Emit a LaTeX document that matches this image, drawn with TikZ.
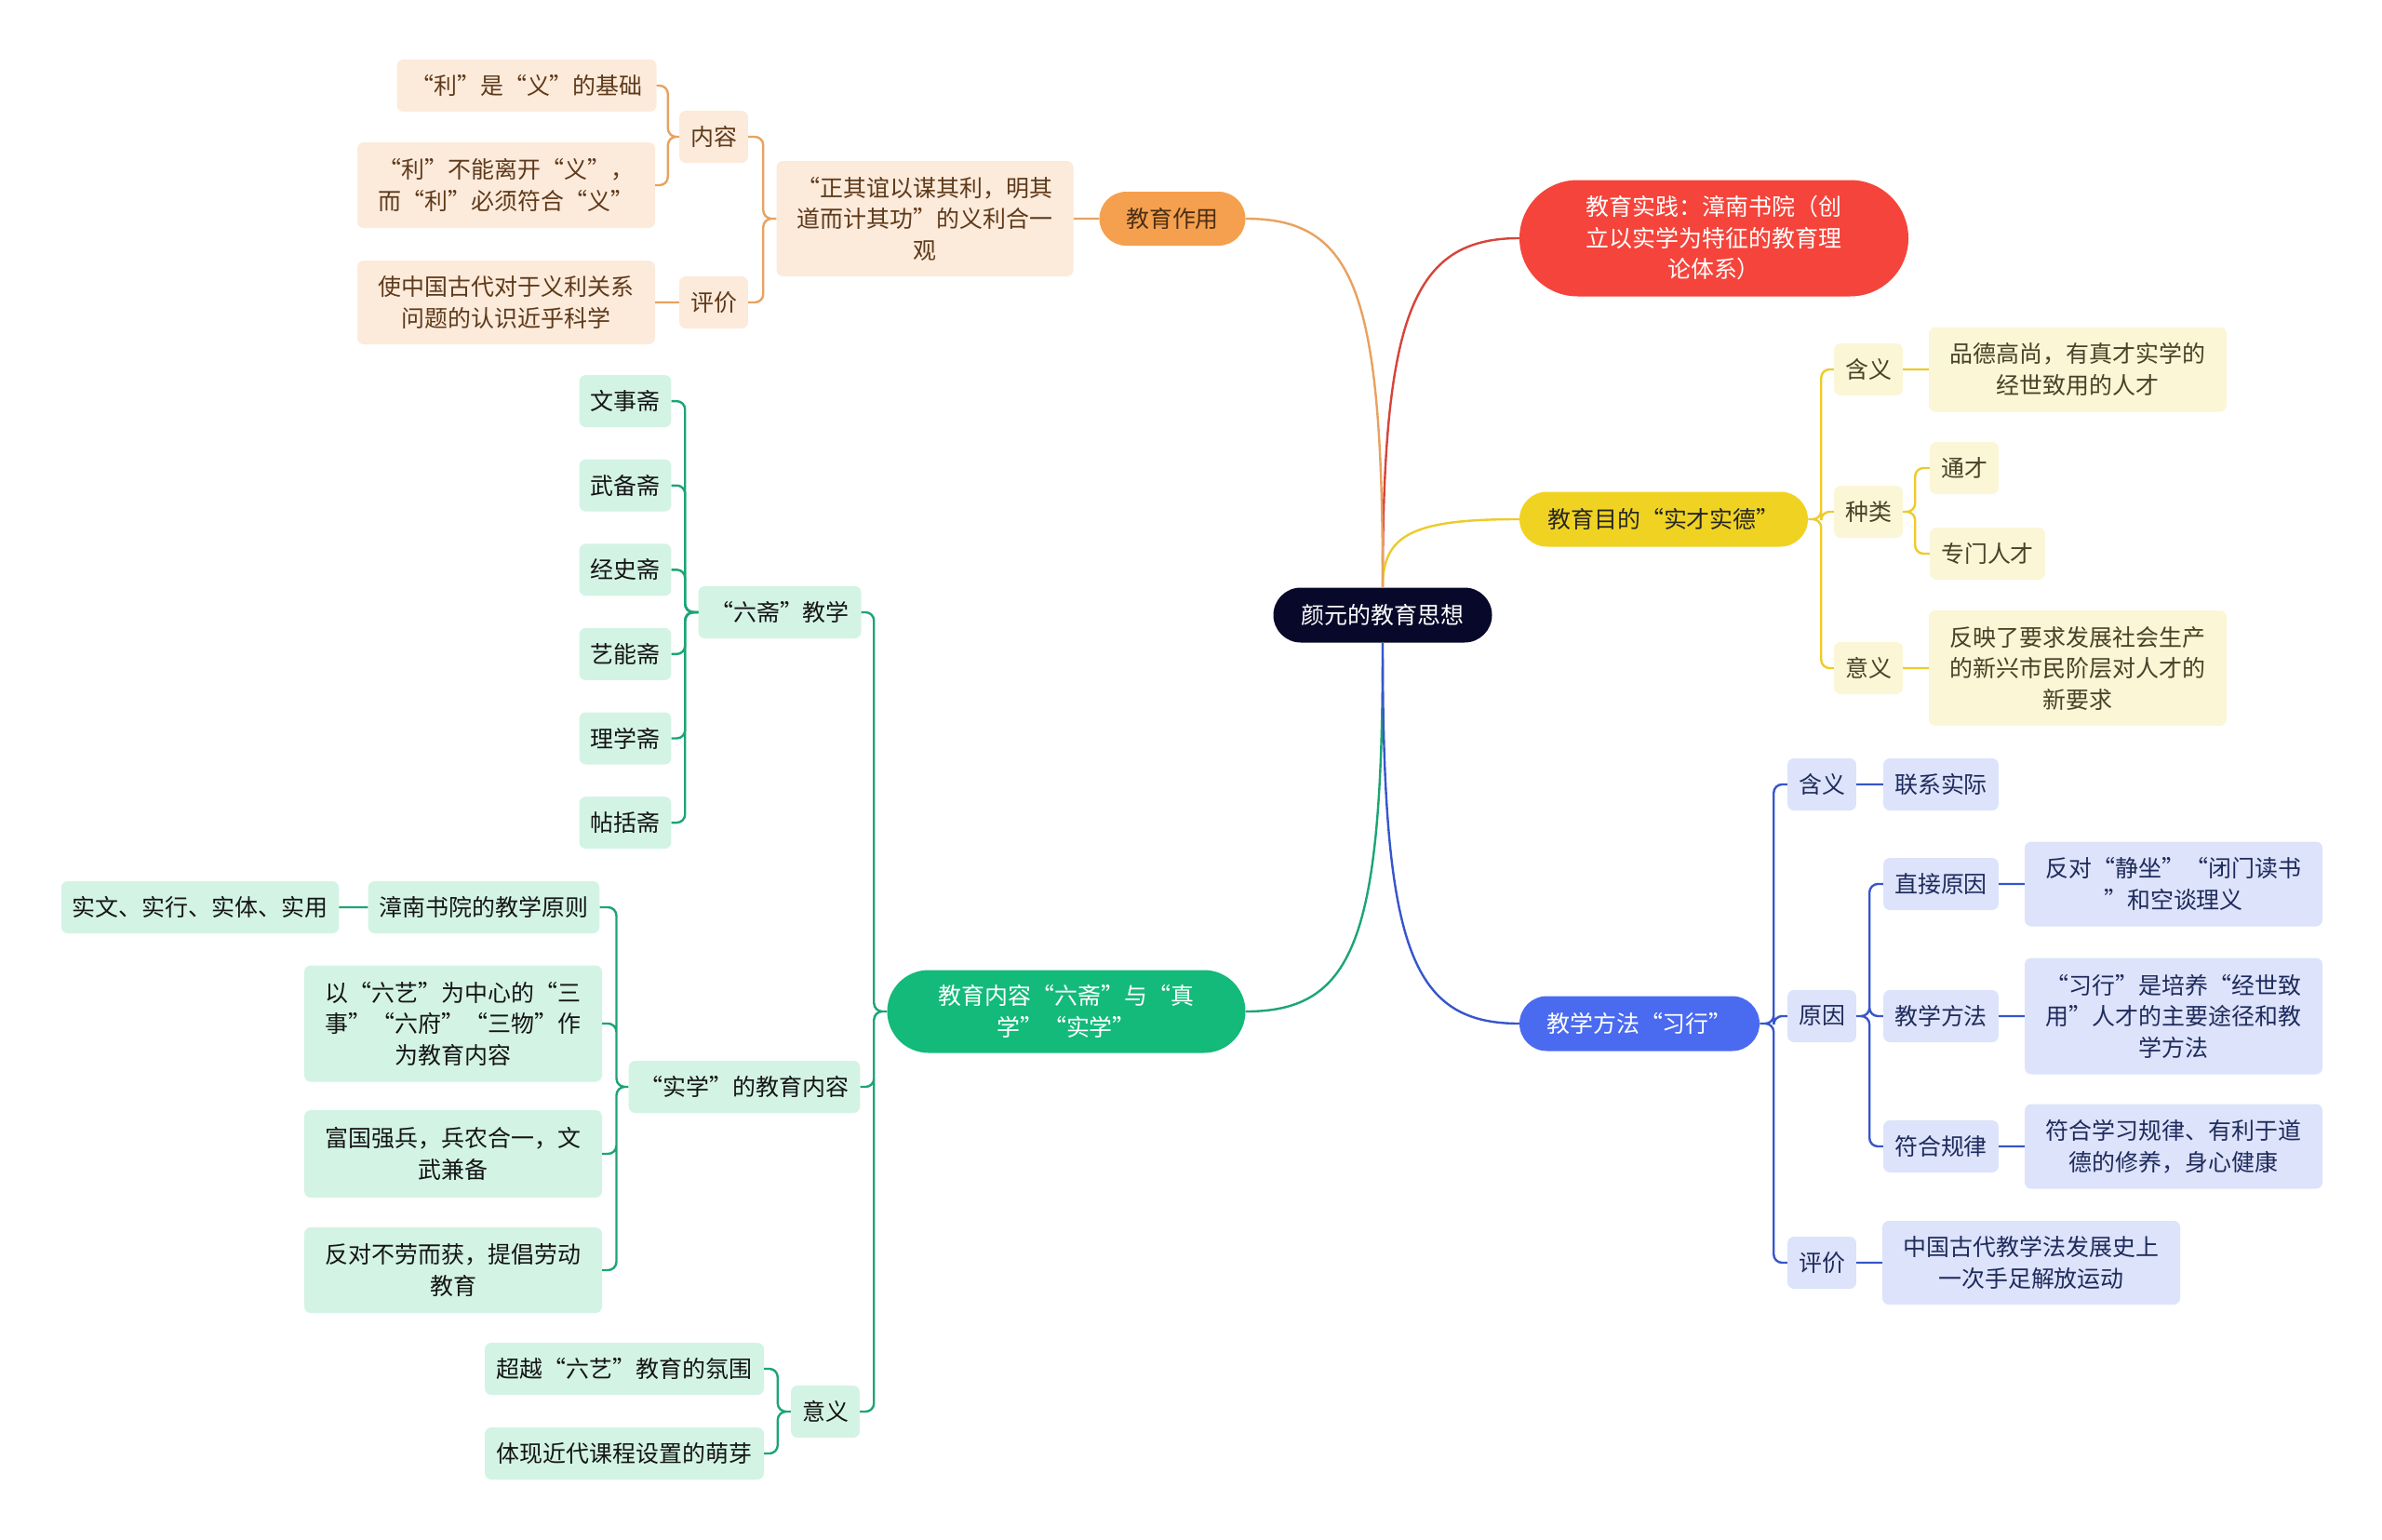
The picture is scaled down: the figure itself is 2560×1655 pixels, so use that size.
\documentclass[tikz,border=0pt]{standalone}
\usepackage{fontspec}
\setmainfont{Noto Sans CJK SC}
\usetikzlibrary{shapes.misc,calc}
\newdimen\px \px=0.3mm
\definecolor{rootc}{HTML}{08082A}
\definecolor{redm}{HTML}{F5443B}\definecolor{redl}{HTML}{D6443A}
\definecolor{orm}{HTML}{F5A04E}\definecolor{orl}{HTML}{E8A25E}\definecolor{ors}{HTML}{FCEADB}\definecolor{ort}{HTML}{5E3A1A}
\definecolor{yem}{HTML}{F0D322}\definecolor{yel}{HTML}{EDCB2A}\definecolor{yes}{HTML}{FBF6D6}\definecolor{yet}{HTML}{4A4128}
\definecolor{blm}{HTML}{4A6BF0}\definecolor{bll}{HTML}{3656CC}\definecolor{bls}{HTML}{DCE3FA}\definecolor{blt}{HTML}{1F2B5C}
\definecolor{grm}{HTML}{13BA7A}\definecolor{grl}{HTML}{1CA574}\definecolor{grs}{HTML}{D3F3E5}\definecolor{grt}{HTML}{151515}

\begin{document}
\begin{tikzpicture}[x=0.3mm,y=-0.3mm,font=\fontsize{21.3pt}{28.6pt}\selectfont,
 main/.style={rounded rectangle,inner sep=0pt,align=center},
 sub/.style={rounded corners=7\px,minimum height=56\px,inner xsep=12\px,inner ysep=0pt,align=center},
 os/.style={sub,fill=ors,text=ort}, ys/.style={sub,fill=yes,text=yet},
 bs/.style={sub,fill=bls,text=blt}, gs/.style={sub,fill=grs,text=grt},
 wide/.style={minimum width=320\px,minimum height=#1\px},
 ln/.style={line width=2.4\px,rounded corners=9\px}]
\useasboundingbox (0,0) rectangle (2560,1655);

% centre and main branches
\node[main,fill=rootc,text=white,minimum width=235\px,minimum height=59\px] (root) at (1486,661) {颜元的教育思想};
\node[main,fill=redm,text=white,minimum width=418\px,minimum height=125\px] (sj) at (1842,256) {教育实践：漳南书院（创\\立以实学为特征的教育理\\论体系）};
\node[main,fill=yem,text=black!85,minimum width=310\px,minimum height=59\px] (md) at (1788,558) {教育目的“实才实德”};
\node[main,fill=orm,text=ort!80!black,minimum width=157\px,minimum height=58\px] (zy) at (1260,235) {教育作用};
\node[main,fill=grm,text=white,minimum width=385\px,minimum height=89\px] (nr) at (1146,1087) {教育内容“六斋”与“真\\学”“实学”};
\node[main,fill=blm,text=white,minimum width=258\px,minimum height=59\px] (ff) at (1762,1100) {教学方法“习行”};

\draw[ln,draw=redl] (root.north) .. controls ($(root.north)!.78!(root.north |- sj.west)$) and ($(sj.west)!.78!(root.north |- sj.west)$) .. (sj.west);
\draw[ln,draw=yel] (root.north) .. controls ($(root.north)!.78!(root.north |- md.west)$) and ($(md.west)!.78!(root.north |- md.west)$) .. (md.west);
\draw[ln,draw=orl] (root.north) .. controls ($(root.north)!.8!(root.north |- zy.east)$) and ($(zy.east)!.8!(root.north |- zy.east)$) .. (zy.east);
\draw[ln,draw=grl] (root.south) .. controls ($(root.south)!.8!(root.south |- nr.east)$) and ($(nr.east)!.8!(root.south |- nr.east)$) .. (nr.east);
\draw[ln,draw=bll] (root.south) .. controls ($(root.south)!.8!(root.south |- ff.west)$) and ($(ff.west)!.8!(root.south |- ff.west)$) .. (ff.west);

% 教育作用
\node[os,minimum width=319\px,minimum height=124\px] (yl) at (994,235) {“正其谊以谋其利，明其\\道而计其功”的义利合一\\观};
\node[os] (onr) at (767,147) {内容}; \node[os] (opj) at (767,325) {评价};
\node[os,minimum width=279\px] (o1) at (566,92) {“利”是“义”的基础};
\node[os,wide=92] (o2) at (544,199) {“利”不能离开“义”，\\而“利”必须符合“义”};
\node[os,wide=90] (o3) at (544,325) {使中国古代对于义利关系\\问题的认识近乎科学};
\draw[ln,draw=orl] (zy.west) -- (yl.east)
 (yl.west) -- ++(-14,0) |- (onr.east) (yl.west) -- ++(-14,0) |- (opj.east)
 (onr.west) -- ++(-12,0) |- (o1.east) (onr.west) -- ++(-12,0) |- (o2.east)
 (opj.west) -- (o3.east);

% 教育目的
\node[ys] (yh) at (2008,397) {含义}; \node[ys] (yz) at (2008,550) {种类}; \node[ys] (yy) at (2008,718) {意义};
\node[ys,wide=91] (y1) at (2233,397) {品德高尚，有真才实学的\\经世致用的人才};
\node[ys] (tc) at (2111,503) {通才}; \node[ys] (zm) at (2136,595) {专门人才};
\node[ys,wide=124] (y2) at (2233,718) {反映了要求发展社会生产\\的新兴市民阶层对人才的\\新要求};
\draw[ln,draw=yel] (md.east) -- ++(14,0) |- (yh.west) (md.east) -- ++(14,0) |- (yz.west) (md.east) -- ++(14,0) |- (yy.west)
 (yh.east) -- (y1.west) (yy.east) -- (y2.west)
 (yz.east) -- ++(13,0) |- (tc.west) (yz.east) -- ++(13,0) |- (zm.west);

% 教学方法
\node[bs] (bh) at (1958,843) {含义}; \node[bs] (by) at (1958,1092) {原因}; \node[bs] (bp) at (1958,1357) {评价};
\node[bs] (lx) at (2086,843) {联系实际};
\node[bs] (zj) at (2086,950) {直接原因}; \node[bs] (jf) at (2086,1092) {教学方法}; \node[bs] (fh) at (2086,1232) {符合规律};
\node[bs,wide=91] (b1) at (2336,950) {反对“静坐”“闭门读书\\”和空谈理义};
\node[bs,wide=125] (b2) at (2336,1092) {“习行”是培养“经世致\\用”人才的主要途径和教\\学方法};
\node[bs,wide=91] (b3) at (2336,1232) {符合学习规律、有利于道\\德的修养，身心健康};
\node[bs,wide=90] (b4) at (2183,1357) {中国古代教学法发展史上\\一次手足解放运动};
\draw[ln,draw=bll] (ff.east) -- ++(15,0) |- (bh.west) (ff.east) -- ++(15,0) |- (by.west) (ff.east) -- ++(15,0) |- (bp.west)
 (bh.east) -- (lx.west) (bp.east) -- (b4.west)
 (by.east) -- ++(14,0) |- (zj.west) (by.east) -- ++(14,0) |- (jf.west) (by.east) -- ++(14,0) |- (fh.west)
 (zj.east) -- (b1.west) (jf.east) -- (b2.west) (fh.east) -- (b3.west);

% 教育内容
\node[gs,minimum width=175\px] (lz) at (838,658) {“六斋”教学};
\foreach \t [count=\i] in {文事斋,武备斋,经史斋,艺能斋,理学斋,帖括斋} {
 \node[gs] (z\i) at (672,340.5+90.6*\i) {\t};
 \draw[ln,draw=grl] (lz.west) -- ++(-14,0) |- (z\i.east);
}
\node[gs] (sx) at (800,1168) {“实学”的教育内容};
\node[gs] (zn) at (520,975) {漳南书院的教学原则}; \node[gs] (sw) at (215,975) {实文、实行、实体、实用};
\node[gs,wide=125] (g1) at (487,1100) {以“六艺”为中心的“三\\事”“六府”“三物”作\\为教育内容};
\node[gs,wide=94] (g2) at (487,1240) {富国强兵，兵农合一，文\\武兼备};
\node[gs,wide=92] (g3) at (487,1365) {反对不劳而获，提倡劳动\\教育};
\node[gs] (gy) at (887,1517) {意义};
\node[gs,minimum width=300\px] (g4) at (671,1471) {超越“六艺”教育的氛围};
\node[gs,minimum width=300\px] (g5) at (671,1562) {体现近代课程设置的萌芽};
\draw[ln,draw=grl] (nr.west) -- ++(-14,0) |- (lz.east) (nr.west) -- ++(-14,0) |- (sx.east) (nr.west) -- ++(-14,0) |- (gy.east)
 (sx.west) -- ++(-13,0) |- (zn.east) (sx.west) -- ++(-13,0) |- (g1.east) (sx.west) -- ++(-13,0) |- (g2.east) (sx.west) -- ++(-13,0) |- (g3.east)
 (zn.west) -- (sw.east)
 (gy.west) -- ++(-14,0) |- (g4.east) (gy.west) -- ++(-14,0) |- (g5.east);
\end{tikzpicture}
\end{document}
